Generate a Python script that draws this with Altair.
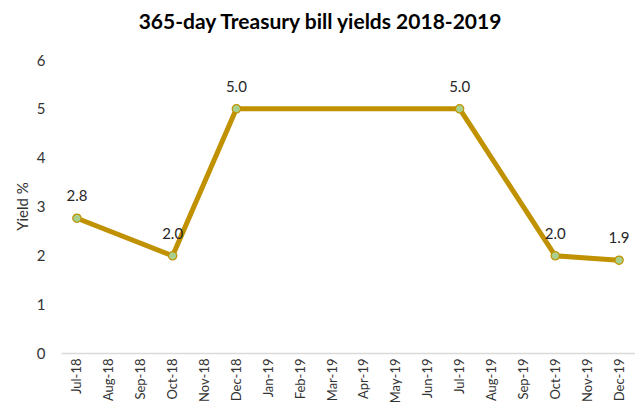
import altair as alt
import pandas as pd

months = ["Jul-18", "Aug-18", "Sep-18", "Oct-18", "Nov-18", "Dec-18", "Jan-19", "Feb-19",
          "Mar-19", "Apr-19", "May-19", "Jun-19", "Jul-19", "Aug-19", "Sep-19", "Oct-19",
          "Nov-19", "Dec-19"]
obs_months = ["Jul-18", "Oct-18", "Dec-18", "Jul-19", "Oct-19", "Dec-19"]
yields = [2.76, 1.99, 5.0, 5.0, 1.99, 1.9]

df = pd.DataFrame({"month": obs_months, "yield": yields})
df["label"] = df["yield"].map(lambda v: f"{v:.1f}")

FONT = "Lato"
x = alt.X("month:O", scale=alt.Scale(domain=months, type="point", padding=0.5),
          sort=months,
          axis=alt.Axis(title=None, labelAngle=270, labelAlign="right", labelBaseline="middle",
                        labelPadding=5, ticks=False, domainColor="#d9d9d9", domainWidth=1.5,
                        labelFont=FONT, labelFontSize=13, labelColor="#333333", grid=False))
y = alt.Y("yield:Q", scale=alt.Scale(domain=[0, 6], nice=False),
          axis=alt.Axis(title="Yield %", values=[0, 1, 2, 3, 4, 5, 6], format="d",
                        ticks=False, domain=False, grid=False, labelPadding=16,
                        labelFont=FONT, labelFontSize=15, labelColor="#333333",
                        titleFont=FONT, titleFontSize=15, titleFontWeight="normal",
                        titleColor="#333333", titleAngle=270, titleX=-39, titleY=146,
                        titleAlign="center", titleBaseline="middle"))

base = alt.Chart(df)
line = base.mark_line(color="#C09100", strokeWidth=5).encode(x=x, y=y)
pts = base.mark_point(filled=True, fill="#A9D18E", stroke="#C09100", strokeWidth=1.2,
                      size=70, opacity=1).encode(x=x, y=y)
txt = base.mark_text(dy=-22, font=FONT, fontSize=15, color="#262626").encode(
    x=x, y=y, text="label:N")

chart = (line + pts + txt).properties(
    width=574, height=293,
    autosize=alt.AutoSizeParams(type="none"),
    padding={"left": 53, "top": 52, "right": 0, "bottom": 51},
    title=alt.TitleParams("365-day Treasury bill yields 2018-2019", font=FONT, fontSize=21,
                          fontWeight="bold", color="#000000", anchor="middle", dx=-28,
                          offset=20),
).configure_view(stroke=None)

chart.save("out.html", embed_options={"renderer": "svg", "actions": False})
